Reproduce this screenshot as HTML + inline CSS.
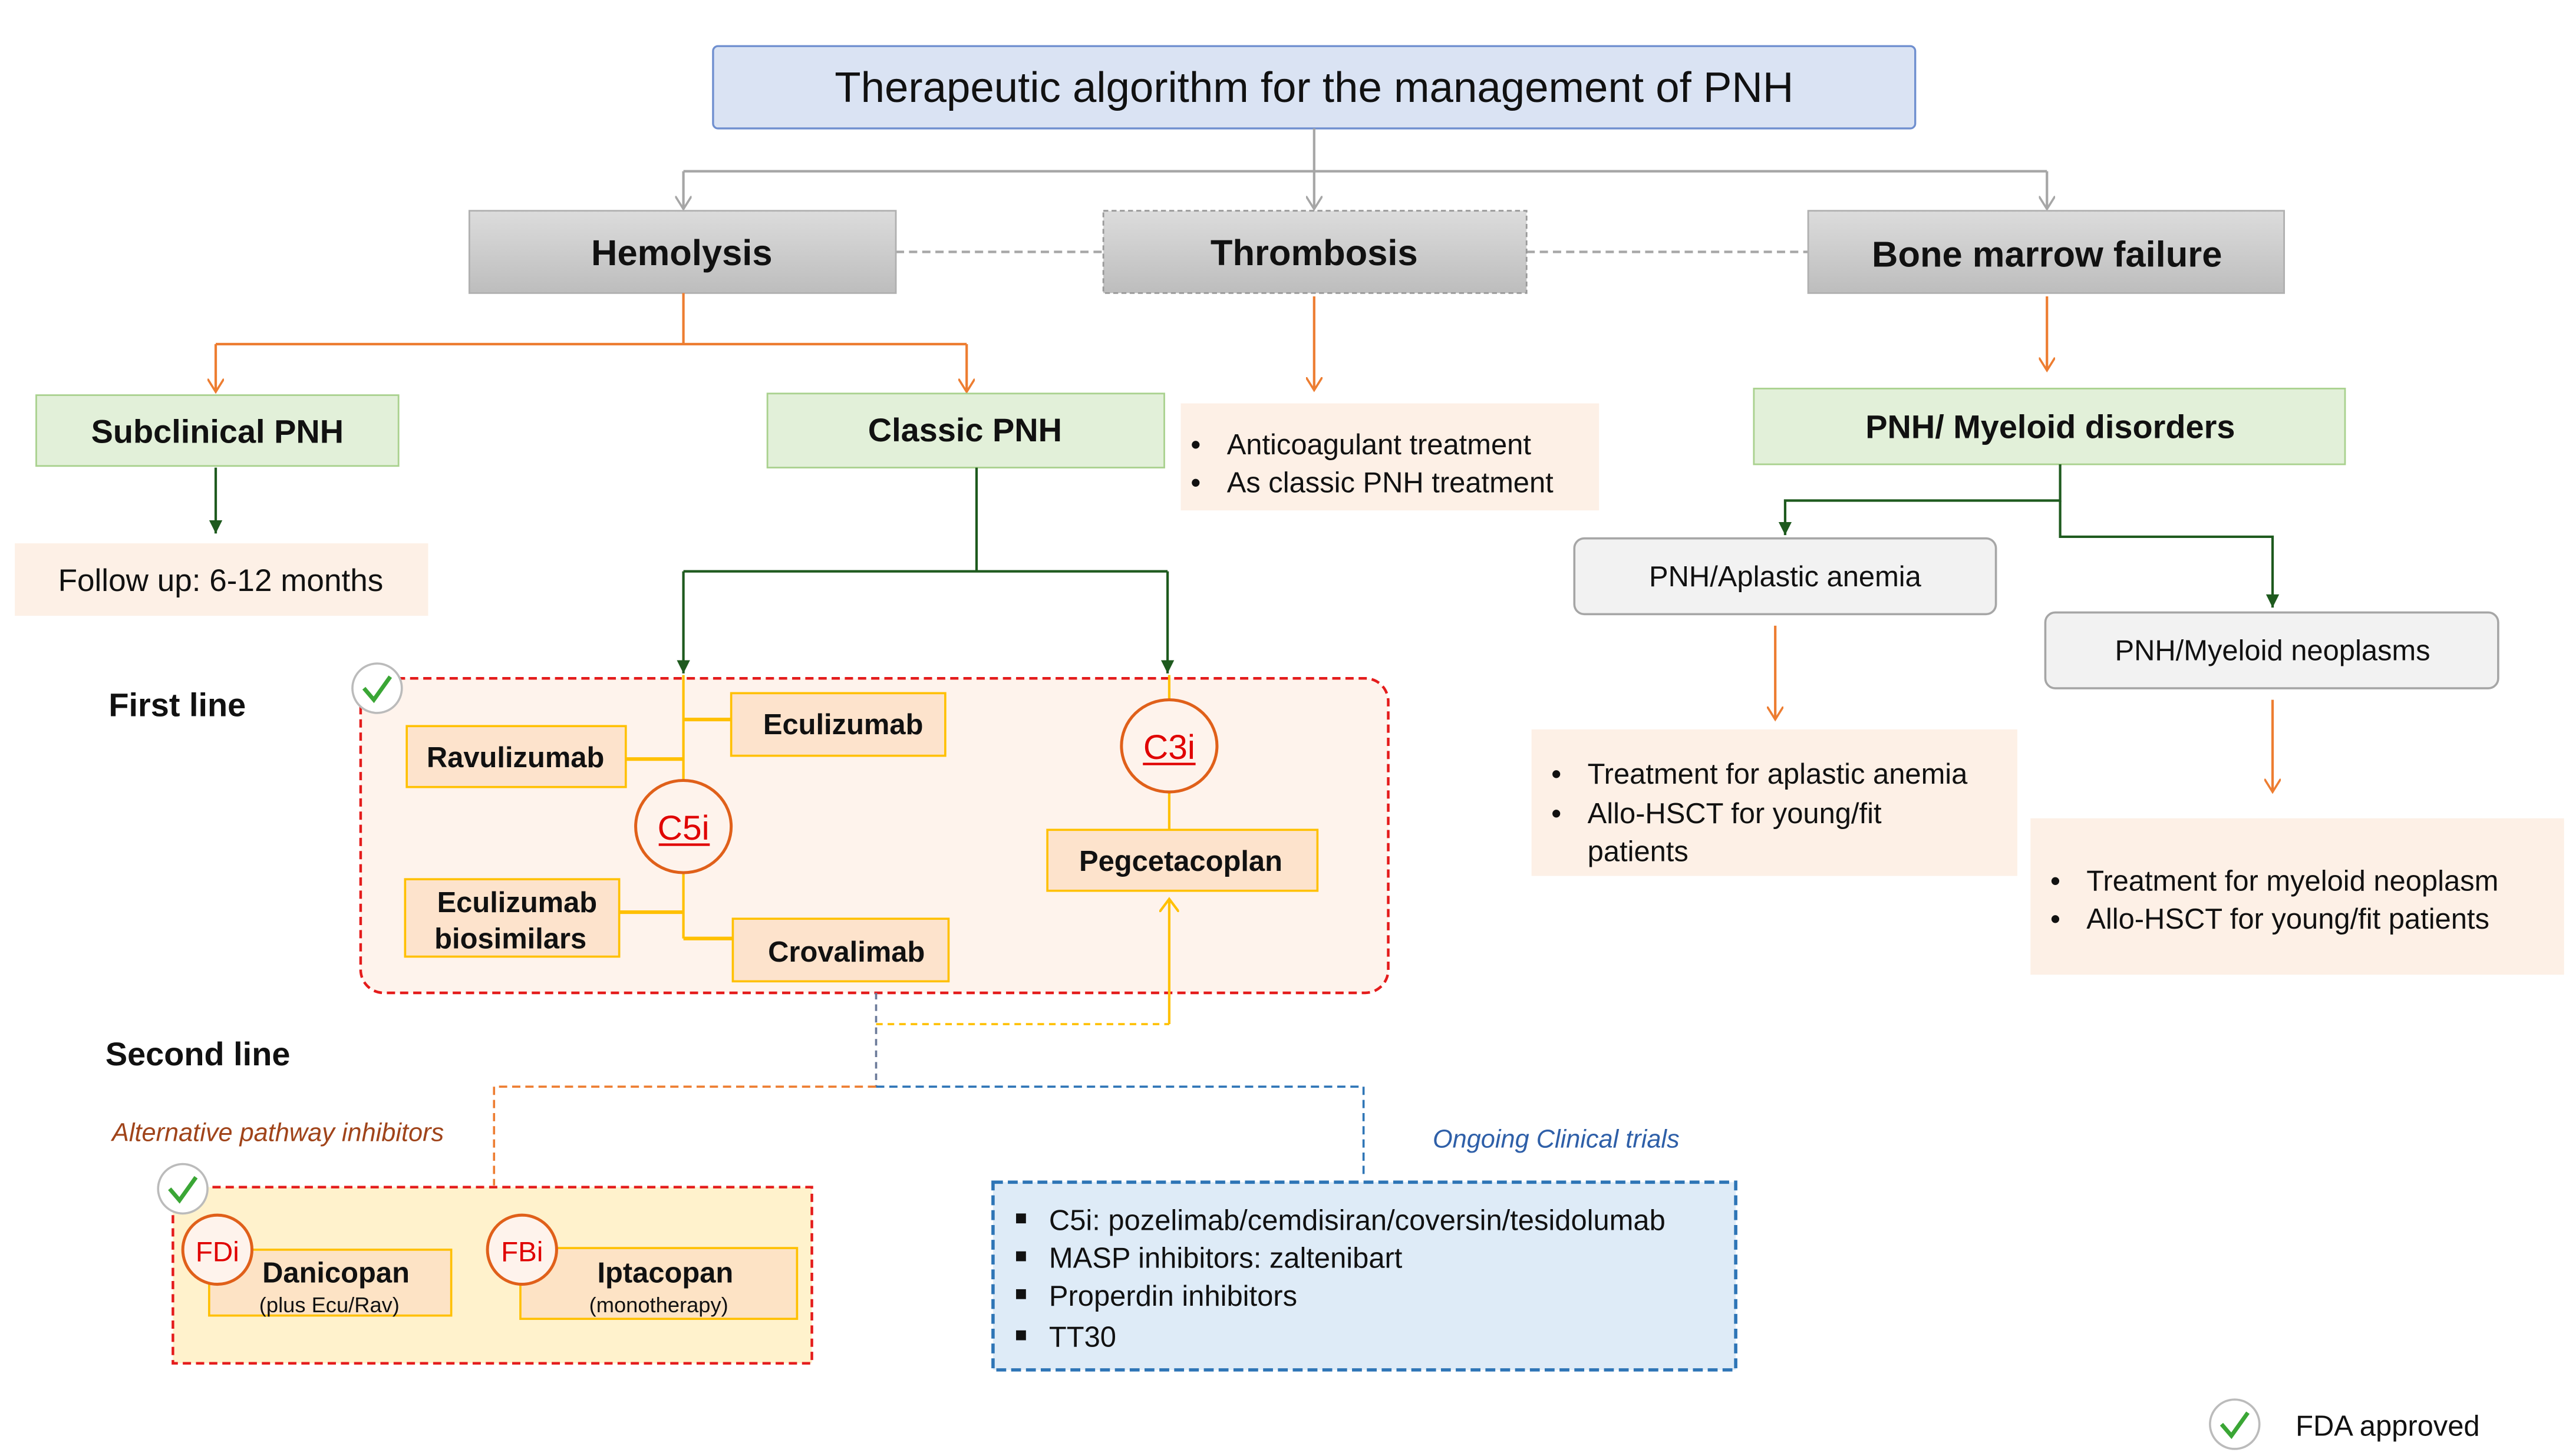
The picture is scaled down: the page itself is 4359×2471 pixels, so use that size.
<!DOCTYPE html>
<html><head><meta charset="utf-8"><style>
html,body{margin:0;padding:0;background:#fff;}
svg{display:block;}
text{font-family:"Liberation Sans",sans-serif;}
</style></head><body>
<svg width="4359" height="2471" viewBox="0 0 1560 884.3" preserveAspectRatio="none" xmlns="http://www.w3.org/2000/svg">
<defs>
<linearGradient id="g" x1="0" y1="0" x2="0" y2="1"><stop offset="0" stop-color="#dcdcdc"/><stop offset="1" stop-color="#bdbdbd"/></linearGradient>
<marker id="ag" markerWidth="10" markerHeight="10" refX="8" refY="5" orient="auto" markerUnits="userSpaceOnUse"><path d="M0,0 L8,5 L0,10" fill="none" stroke="#a6a6a6" stroke-width="1.3"/></marker>
<marker id="ao" markerWidth="10" markerHeight="10" refX="8" refY="5" orient="auto" markerUnits="userSpaceOnUse"><path d="M0,0 L8,5 L0,10" fill="none" stroke="#ed7d31" stroke-width="1.3"/></marker>
<marker id="agr" markerWidth="10" markerHeight="10" refX="8" refY="5" orient="auto" markerUnits="userSpaceOnUse"><path d="M0,1 L8,5 L0,9 Z" fill="#1e5a1e"/></marker>
<marker id="ay" markerWidth="12" markerHeight="12" refX="8" refY="6" orient="auto" markerUnits="userSpaceOnUse"><path d="M0,0 L8,6 L0,12" fill="none" stroke="#ffc000" stroke-width="1.5"/></marker>
</defs>

<rect x="433" y="28" width="730" height="50" rx="3" fill="#dae3f3" stroke="#6f8fcf" stroke-width="1.2"/>
<text x="798" y="62" font-size="26" text-anchor="middle" fill="#111">Therapeutic algorithm for the management of  PNH</text>

<g stroke="#a6a6a6" stroke-width="1.5" fill="none">
<path d="M798,78 V104"/><path d="M415,104 H1243"/>
<path d="M415,104 V127" marker-end="url(#ag)"/><path d="M798,104 V127" marker-end="url(#ag)"/><path d="M1243,104 V127" marker-end="url(#ag)"/>
<path d="M544,153 H670 M927,153 H1098" stroke-dasharray="5,3"/>
</g>

<rect x="285" y="128" width="259" height="50" fill="url(#g)" stroke="#b0b0b0"/>
<text x="414" y="161" font-size="22" font-weight="bold" text-anchor="middle" fill="#111">Hemolysis</text>
<rect x="670" y="128" width="257" height="50" fill="url(#g)" stroke="#999" stroke-dasharray="3,2"/>
<text x="798" y="161" font-size="22" font-weight="bold" text-anchor="middle" fill="#111">Thrombosis</text>
<rect x="1098" y="128" width="289" height="50" fill="url(#g)" stroke="#b0b0b0"/>
<text x="1243" y="162" font-size="22" font-weight="bold" text-anchor="middle" fill="#111">Bone marrow failure</text>

<g stroke="#ed7d31" stroke-width="1.5" fill="none">
<path d="M415,178 V209 M131,209 H587"/>
<path d="M131,209 V238" marker-end="url(#ao)"/><path d="M587,209 V238" marker-end="url(#ao)"/>
<path d="M798,180 V237" marker-end="url(#ao)"/>
<path d="M1243,180 V225" marker-end="url(#ao)"/>
<path d="M1078,380 V437" marker-end="url(#ao)"/>
<path d="M1380,425 V481" marker-end="url(#ao)"/>
</g>

<rect x="22" y="240" width="220" height="43" fill="#e2f0d9" stroke="#a9d18e"/>
<text x="132" y="269" font-size="20" font-weight="bold" text-anchor="middle" fill="#111">Subclinical PNH</text>
<rect x="466" y="239" width="241" height="45" fill="#e2f0d9" stroke="#a9d18e"/>
<text x="586" y="268" font-size="20" font-weight="bold" text-anchor="middle" fill="#111">Classic PNH</text>
<rect x="1065" y="236" width="359" height="46" fill="#e2f0d9" stroke="#a9d18e"/>
<text x="1245" y="266" font-size="20" font-weight="bold" text-anchor="middle" fill="#111">PNH/ Myeloid disorders</text>

<g stroke="#1e5a1e" stroke-width="1.5" fill="none">
<path d="M131,284 V324" marker-end="url(#agr)"/>
<path d="M593,284 V347 M415,347 H709"/>
<path d="M415,347 V409" marker-end="url(#agr)"/><path d="M709,347 V409" marker-end="url(#agr)"/>
<path d="M1251,282 V304 H1084 V325" marker-end="url(#agr)"/>
<path d="M1251,304 V326 H1380 V369" marker-end="url(#agr)"/>
</g>

<rect x="9" y="330" width="251" height="44" fill="#fdf0e6"/>
<text x="134" y="359" font-size="19" text-anchor="middle" fill="#111">Follow up: 6-12 months</text>

<rect x="717" y="245" width="254" height="65" fill="#fdf0e6"/>
<g font-size="17.5" fill="#111"><text x="723" y="276">•</text><text x="745" y="276">Anticoagulant treatment</text>
<text x="723" y="299">•</text><text x="745" y="299">As classic PNH treatment</text></g>

<rect x="956" y="327" width="256" height="46" rx="6" fill="#f2f2f2" stroke="#a6a6a6" stroke-width="1.3"/>
<text x="1084" y="356" font-size="17.5" text-anchor="middle" fill="#111">PNH/Aplastic anemia</text>
<rect x="1242" y="372" width="275" height="46" rx="6" fill="#f2f2f2" stroke="#a6a6a6" stroke-width="1.3"/>
<text x="1380" y="401" font-size="17.5" text-anchor="middle" fill="#111">PNH/Myeloid neoplasms</text>

<rect x="930" y="443" width="295" height="89" fill="#fdf0e6"/>
<g font-size="17.5" fill="#111"><text x="942" y="476">•</text><text x="964" y="476">Treatment for aplastic anemia</text>
<text x="942" y="500">•</text><text x="964" y="500">Allo-HSCT for young/fit</text>
<text x="964" y="523">patients</text></g>

<rect x="1233" y="497" width="324" height="95" fill="#fdf0e6"/>
<g font-size="17.5" fill="#111"><text x="1245" y="541">•</text><text x="1267" y="541">Treatment for myeloid neoplasm</text>
<text x="1245" y="564">•</text><text x="1267" y="564">Allo-HSCT for young/fit patients</text></g>

<text x="66" y="435" font-size="20" font-weight="bold" fill="#111">First line</text>
<rect x="219" y="412" width="624" height="191" rx="14" fill="#fef3ec" stroke="#e41b1b" stroke-width="1.6" stroke-dasharray="5,3"/>

<g stroke="#ffc000" stroke-width="1.5" fill="none">
<path d="M415,410 V570"/>
<path d="M415,437 H444 M380,461 H415 M376,554 H415 M415,570 H445" stroke-width="2.2"/>
<path d="M710,410 V504"/>
</g>
<g fill="#fde3cc" stroke="#ffc000" stroke-width="1.3">
<rect x="444" y="421" width="130" height="38"/>
<rect x="247" y="441" width="133" height="37"/>
<rect x="246" y="534" width="130" height="47"/>
<rect x="445" y="558" width="131" height="38"/>
<rect x="636" y="504" width="164" height="37"/>
</g>
<g font-size="17.5" font-weight="bold" fill="#111" text-anchor="middle">
<text x="512" y="446">Eculizumab</text>
<text x="313" y="466">Ravulizumab</text>
<text x="314" y="554">Eculizumab</text>
<text x="310" y="576">biosimilars</text>
<text x="514" y="584">Crovalimab</text>
<text x="717" y="529">Pegcetacoplan</text>
</g>
<ellipse cx="415" cy="502" rx="29" ry="28" fill="#fef3ec" stroke="#e0601a" stroke-width="1.8"/>
<text x="415" y="510" font-size="21" fill="#e00000" text-anchor="middle">C5i</text>
<line x1="400" y1="513" x2="431" y2="513" stroke="#e00000" stroke-width="1.5"/>
<ellipse cx="710" cy="453" rx="29" ry="28" fill="#fef3ec" stroke="#e0601a" stroke-width="1.8"/>
<text x="710" y="461" font-size="21" fill="#e00000" text-anchor="middle">C3i</text>
<line x1="694" y1="464" x2="726" y2="464" stroke="#e00000" stroke-width="1.5"/>

<g fill="none" stroke-width="1.3">
<path d="M532,603 V660" stroke="#6b7a99" stroke-dasharray="4,3"/>
<path d="M532,622 H710" stroke="#ffc000" stroke-dasharray="4,3"/>
<path d="M710,622 V546" stroke="#ffc000" stroke-width="1.5" marker-end="url(#ay)"/>
<path d="M532,660 H300 V720" stroke="#ed7d31" stroke-dasharray="5,3"/>
<path d="M532,660 H828 V716" stroke="#2e75b6" stroke-dasharray="5,3"/>
</g>

<text x="64" y="647" font-size="20" font-weight="bold" fill="#111">Second line</text>
<text x="68" y="693" font-size="15.5" font-style="italic" fill="#a0441a">Alternative pathway inhibitors</text>
<text x="870" y="697" font-size="15.5" font-style="italic" fill="#2e5fa8">Ongoing Clinical trials</text>

<rect x="105" y="721" width="388" height="107" fill="#fff2cc" stroke="#e41b1b" stroke-width="1.6" stroke-dasharray="5,3"/>
<rect x="127" y="759" width="147" height="40" fill="#fde3c5" stroke="#ffc000" stroke-width="1.3"/>
<rect x="316" y="758" width="168" height="43" fill="#fde3c5" stroke="#ffc000" stroke-width="1.3"/>
<circle cx="132" cy="759" r="21" fill="#fef3ec" stroke="#e0601a" stroke-width="1.8"/>
<text x="132" y="766" font-size="17" fill="#e00000" text-anchor="middle">FDi</text>
<circle cx="317" cy="759" r="21" fill="#fef3ec" stroke="#e0601a" stroke-width="1.8"/>
<text x="317" y="766" font-size="17" fill="#e00000" text-anchor="middle">FBi</text>
<text x="204" y="779" font-size="17.5" font-weight="bold" fill="#111" text-anchor="middle">Danicopan</text>
<text x="200" y="797" font-size="13" fill="#111" text-anchor="middle">(plus Ecu/Rav)</text>
<text x="404" y="779" font-size="17.5" font-weight="bold" fill="#111" text-anchor="middle">Iptacopan</text>
<text x="400" y="797" font-size="13" fill="#111" text-anchor="middle">(monotherapy)</text>

<rect x="603" y="718" width="451" height="114" fill="#deebf7" stroke="#2e75b6" stroke-width="2" stroke-dasharray="6,3"/>
<g fill="#111">
<rect x="617" y="737" width="6" height="6"/><rect x="617" y="760" width="6" height="6"/><rect x="617" y="783" width="6" height="6"/><rect x="617" y="808" width="6" height="6"/>
<g font-size="17.5">
<text x="637" y="747">C5i: pozelimab/cemdisiran/coversin/tesidolumab</text>
<text x="637" y="770">MASP inhibitors: zaltenibart</text>
<text x="637" y="793">Properdin inhibitors</text>
<text x="637" y="818">TT30</text>
</g></g>

<g>
<circle cx="229" cy="418" r="15" fill="#fff" stroke="#bbb" stroke-width="1.3"/>
<path d="M221,418 L227,425 L237,411" fill="none" stroke="#3aa635" stroke-width="2.5"/>
<circle cx="111" cy="722" r="15" fill="#fff" stroke="#bbb" stroke-width="1.3"/>
<path d="M103,722 L109,729 L119,715" fill="none" stroke="#3aa635" stroke-width="2.5"/>
<circle cx="1357" cy="865" r="15" fill="#fff" stroke="#bbb" stroke-width="1.3"/>
<path d="M1349,865 L1355,872 L1365,858" fill="none" stroke="#3aa635" stroke-width="2.5"/>
</g>
<text x="1394" y="872" font-size="17.5" fill="#111">FDA approved</text>
</svg>
</body></html>
